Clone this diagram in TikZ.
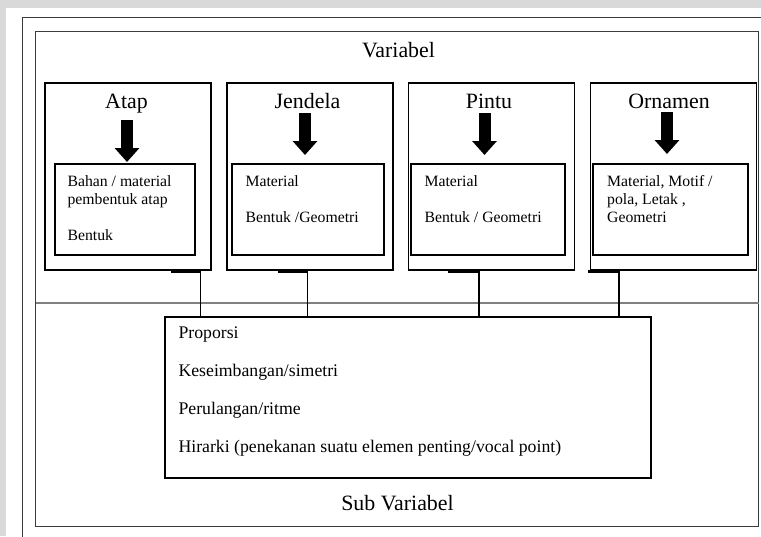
\documentclass[tikz,border=0pt]{standalone}
\usepackage{fontspec}
\setmainfont{Liberation Serif}
\usetikzlibrary{positioning, arrows.meta, calc}
\definecolor{pagegray}{HTML}{D9D9D9}
\definecolor{framegray}{HTML}{3C3C3C}
\definecolor{divgray}{HTML}{808080}

\begin{document}
\begin{tikzpicture}[x=0.75pt, y=-0.75pt,
    every node/.style={inner sep=0pt},
    title/.style={font=\fontsize{16.4}{18}\selectfont, anchor=base},
    outerbox/.style={draw, line width=1.05pt, minimum width=124.5pt, minimum height=140.25pt},
    innerbox/.style={draw, line width=1.05pt, minimum height=68.25pt},
    item/.style={font=\fontsize{11.8}{13.5}\selectfont, align=left, anchor=north west},
    subitem/.style={font=\fontsize{13.3}{28.5}\selectfont, align=left, anchor=north west},
    bigarrow/.style={line width=9pt, -{Triangle[width=18pt, length=10.5pt]}},
    stub/.style={line width=2pt},
    link/.style={line width=1.05pt}]
  \clip (0,0) rectangle (761,536);
  % page and frames
  \fill[pagegray] (0,0) rectangle (761,536);
  \fill[white] (6,8) rectangle (761,536);
  \draw[framegray, line width=1.2pt] (22.5,17.5) rectangle (790,560);
  \draw[framegray, line width=1.2pt] (35.5,31.5) rectangle (758.5,526.5);
  \draw[divgray, line width=1.5pt] (35.5,302.5) -- (758.5,302.5);

  \node[title] (variabel) at (398.5,57) {Variabel};

  % variable boxes
  \node[outerbox] (oatap) at (128,176.5) {};
  \node[outerbox, right=11pt of oatap] (ojendela) {};
  \node[outerbox, right=10.5pt of ojendela] (opintu) {};
  \node[outerbox, right=11pt of opintu] (oornamen) {};

  \node[title] (tatap) at (126.5,108) {Atap};
  \node[title] (tjendela) at (307.5,108) {Jendela};
  \node[title] (tpintu) at (489,108) {Pintu};
  \node[title] (tornamen) at (669,108) {Ornamen};

  \node[innerbox, minimum width=105pt] (iatap) at (125,209.5) {};
  \node[innerbox, minimum width=114pt] (ijendela) at (308,209.5) {};
  \node[innerbox, minimum width=115.5pt] (ipintu) at (488,209.5) {};
  \node[innerbox, minimum width=116.25pt] (iornamen) at (670.5,209.5) {};

  \node[item] (xatap) at ([xshift=9.75pt, yshift=-9pt]iatap.north west)
    {Bahan / material\\pembentuk atap\\[13.5pt]Bentuk};
  \node[item] (xjendela) at ([xshift=10.5pt, yshift=-9pt]ijendela.north west)
    {Material\\[13.5pt]Bentuk /Geometri};
  \node[item] (xpintu) at ([xshift=10.5pt, yshift=-9pt]ipintu.north west)
    {Material\\[13.5pt]Bentuk / Geometri};
  \node[item] (xornamen) at ([xshift=11pt, yshift=-9pt]iornamen.north west)
    {Material, Motif /\\pola, Letak ,\\Geometri};

  % arrows title -> box
  \draw[bigarrow] ($(tatap.base)+(0.5,12)$) -- ($(tatap.base)+(0.5,54)$);
  \draw[bigarrow] ($(tjendela.base)+(-2.5,5)$) -- ($(tjendela.base)+(-2.5,47)$);
  \draw[bigarrow] ($(tpintu.base)+(-4.5,5)$) -- ($(tpintu.base)+(-4.5,47)$);
  \draw[bigarrow] ($(tornamen.base)+(-2,4)$) -- ($(tornamen.base)+(-2,46)$);

  % sub variable box
  \node[draw, line width=1.05pt, minimum width=364.5pt, minimum height=120.75pt] (sub) at (408,397.5) {};
  \node[subitem] (subitems) at ([xshift=10.5pt, yshift=-7.5pt]sub.north west)
    {Proporsi\\Keseimbangan/simetri\\Perulangan/ritme\\Hirarki (penekanan suatu elemen penting/vocal point)};
  \node[title] (subvariabel) at (397.5,510.5) {Sub Variabel};

  % links
  \coordinate (katap) at (200.5,0);
  \coordinate (kjendela) at (307.5,0);
  \coordinate (kpintu) at (479,0);
  \coordinate (kornamen) at (619,0);
  \draw[stub] ([yshift=-0.5pt]oatap.south -| katap) -- ++(-30,0);
  \draw[stub] ([yshift=-0.5pt]ojendela.south -| kjendela) -- ++(-30,0);
  \draw[stub] ([yshift=-0.5pt]opintu.south -| kpintu) -- ++(-31,0);
  \draw[stub] ([yshift=-0.5pt]oornamen.south -| kornamen) -- ++(-31,0);
  \draw[link] (oatap.south -| katap) -- (sub.north -| katap);
  \draw[link] (ojendela.south -| kjendela) -- (sub.north -| kjendela);
  \draw[link] (opintu.south -| kpintu) -- (sub.north -| kpintu);
  \draw[link] (oornamen.south -| kornamen) -- (sub.north -| kornamen);
\end{tikzpicture}
\end{document}
